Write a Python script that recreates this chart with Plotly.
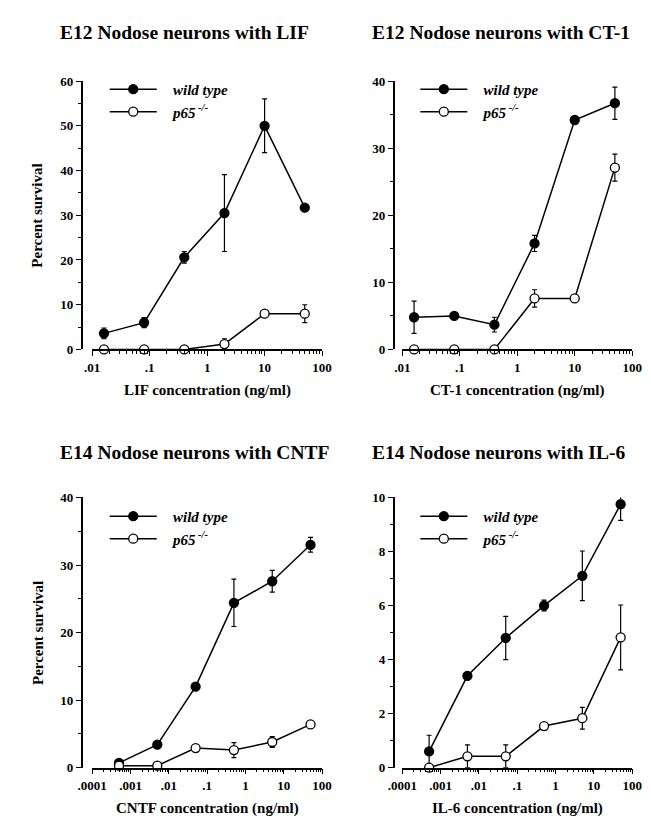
import numpy as np
import plotly.graph_objects as go

# ---------------- data ----------------
conc_e12 = [0.016, 0.08, 0.4, 2, 10, 50]
conc_e14 = [0.0005, 0.005, 0.05, 0.5, 5, 50]

lif_wt = [3.6, 6.0, 20.6, 30.5, 50.0, 31.7]
lif_wt_err = [1.2, 1.1, 1.3, 8.6, 6.0, None]
lif_ko = [0.0, 0.0, 0.0, 1.2, 8.0, 8.0]
lif_ko_err = [None, None, None, 1.2, None, 2.0]

ct1_wt = [4.8, 5.0, 3.7, 15.8, 34.2, 36.7]
ct1_wt_err = [2.4, None, 1.1, 1.2, None, 2.4]
ct1_ko = [0.0, 0.0, 0.0, 7.6, 7.6, 27.1]
ct1_ko_err = [None, None, None, 1.3, None, 2.0]

cntf_wt = [0.7, 3.4, 12.0, 24.4, 27.6, 33.0]
cntf_wt_err = [None, None, 0.4, 3.5, 1.6, 1.1]
cntf_ko = [0.3, 0.3, 2.9, 2.6, 3.8, 6.4]
cntf_ko_err = [None, None, None, 1.1, 0.8, None]

il6_wt = [0.6, 3.4, 4.8, 6.0, 7.1, 9.75]
il6_wt_err = [0.6, None, 0.8, 0.2, 0.92, 0.6]
il6_ko = [0.0, 0.42, 0.42, 1.54, 1.83, 4.82]
il6_ko_err = [None, 0.42, 0.42, None, 0.4, 1.2]

titles = ["E12 Nodose neurons with LIF", "E12 Nodose neurons with CT-1",
          "E14 Nodose neurons with CNTF", "E14 Nodose neurons with IL-6"]
xtitles = ["LIF concentration (ng/ml)", "CT-1 concentration (ng/ml)",
           "CNTF concentration (ng/ml)", "IL-6 concentration (ng/ml)"]
ytitle = "Percent survival"
series_names = ["&nbsp;&nbsp;&nbsp;wild type", "&nbsp;&nbsp;&nbsp;p65<sup> -/-</sup>"]

xt_e12_vals = [0.01, 0.1, 1, 10, 100]
xt_e12_text = [".01", ".1", "1", "10", "100"]
xt_e14_vals = [0.0001, 0.001, 0.01, 0.1, 1, 10, 100]
xt_e14_text = [".0001", ".001", ".01", ".1", "1", "10", "100"]

# ---------------- layout geometry (pixels) ----------------
W, H = 651, 819
def px(x):
    return x / W
def py(y):
    return 1 - y / H

SERIF = "Liberation Serif, Times New Roman, serif"
panels = [
    dict(conc=conc_e12, wt=lif_wt, wte=lif_wt_err, ko=lif_ko, koe=lif_ko_err,
         xd=(72, 311), yd=(67.3, 340.7), yax=61, yr=[0, 60], ydt=10, ymn=5,
         xr=[-2, 2], xtv=xt_e12_vals, xtt=xt_e12_text, ytitle=True,
         leg=(85, 59)),
    dict(conc=conc_e12, wt=ct1_wt, wte=ct1_wt_err, ko=ct1_ko, koe=ct1_ko_err,
         xd=(394.5, 633.5), yd=(67.3, 340.7), yax=385.5, yr=[0, 40], ydt=10, ymn=5,
         xr=[-2, 2], xtv=xt_e12_vals, xtt=xt_e12_text, ytitle=False,
         leg=(408, 59)),
    dict(conc=conc_e14, wt=cntf_wt, wte=cntf_wt_err, ko=cntf_ko, koe=cntf_ko_err,
         xd=(72, 311), yd=(491.5, 766.7), yax=61, yr=[0, 40], ydt=10, ymn=5,
         xr=[-4, 2], xtv=xt_e14_vals, xtt=xt_e14_text, ytitle=True,
         leg=(85, 494)),
    dict(conc=conc_e14, wt=il6_wt, wte=il6_wt_err, ko=il6_ko, koe=il6_ko_err,
         xd=(394.5, 633.5), yd=(491.5, 766.7), yax=385.5, yr=[0, 10], ydt=2, ymn=1,
         xr=[-4, 2], xtv=xt_e14_vals, xtt=xt_e14_text, ytitle=False,
         leg=(408, 494)),
]
title_pos = [(36, 18), (361, 18), (36, 446), (361, 446)]

fig = go.Figure()
layout = dict(width=W, height=H, margin=dict(l=0, r=0, t=0, b=0),
              paper_bgcolor="white", plot_bgcolor="white", showlegend=True)
annotations = []

for i, p in enumerate(panels):
    n = i + 1
    xa = "x" if n == 1 else f"x{n}"
    ya = "y" if n == 1 else f"y{n}"
    lg = "legend" if n == 1 else f"legend{n}"
    for k, (yv, ev) in enumerate([(p["wt"], p["wte"]), (p["ko"], p["koe"])]):
        filled = (k == 0)
        fig.add_trace(go.Scatter(
            x=p["conc"], y=yv, xaxis=xa, yaxis=ya, legend=lg,
            name=series_names[k], mode="lines+markers", cliponaxis=False,
            line=dict(color="black", width=1.5),
            marker=dict(symbol="circle", size=9,
                        color="black" if filled else "white",
                        line=dict(color="black", width=1.3)),
            error_y=dict(type="data", array=ev, symmetric=True, visible=True,
                         color="black", thickness=1.2, width=2.5),
        ))
    minor_x = [m * 10 ** d for d in range(p["xr"][0], p["xr"][1]) for m in range(2, 10)]
    layout["xaxis" if n == 1 else f"xaxis{n}"] = dict(
        type="log", range=p["xr"], domain=[px(p["xd"][0]), px(p["xd"][1])],
        anchor=ya, showline=True, linecolor="black", linewidth=1.5,
        showgrid=False, zeroline=False, ticks="outside", ticklen=5,
        tickwidth=1.2, tickcolor="black", tickmode="array",
        tickvals=p["xtv"], ticktext=p["xtt"],
        tickfont=dict(family=SERIF, size=13, color="black", weight="bold"),
        minor=dict(tickmode="array", tickvals=minor_x, ticks="outside",
                   ticklen=3, tickwidth=1, tickcolor="black", showgrid=False),
    )
    layout["yaxis" if n == 1 else f"yaxis{n}"] = dict(
        range=p["yr"], domain=[py(p["yd"][1]), py(p["yd"][0])],
        anchor="free", position=px(p["yax"]), showline=True,
        linecolor="black", linewidth=1.5, showgrid=False, zeroline=False,
        ticks="outside", ticklen=5, tickwidth=1.2, tickcolor="black",
        dtick=p["ydt"], tick0=0,
        tickfont=dict(family=SERIF, size=13, color="black", weight="bold"),
        minor=dict(dtick=p["ymn"], ticks="outside", ticklen=3, tickwidth=1,
                   tickcolor="black", showgrid=False),
    )
    layout[lg] = dict(
        x=px(p["leg"][0]), y=py(p["leg"][1]), xanchor="left", yanchor="top",
        bgcolor="rgba(0,0,0,0)", borderwidth=0, itemwidth=47,
        font=dict(family=SERIF, size=15, color="black", weight="bold", style="italic"),
        tracegroupgap=0, itemclick=False,
    )
    # panel title
    annotations.append(dict(
        text=titles[i], xref="paper", yref="paper",
        x=px(title_pos[i][0]), y=py(title_pos[i][1]), xanchor="left", yanchor="middle",
        showarrow=False, font=dict(family=SERIF, size=19.5, color="black", weight="bold")))
    # x axis title
    annotations.append(dict(
        text=xtitles[i], xref="paper", yref="paper",
        x=px((p["xd"][0] + p["xd"][1]) / 2), y=py(p["yd"][1] + 42),
        xanchor="center", yanchor="middle", showarrow=False,
        font=dict(family=SERIF, size=15, color="black", weight="bold")))
    if p["ytitle"]:
        annotations.append(dict(
            text=ytitle, xref="paper", yref="paper", textangle=-90,
            x=px(15), y=py((p["yd"][0] + p["yd"][1]) / 2),
            xanchor="center", yanchor="middle", showarrow=False,
            font=dict(family=SERIF, size=15, color="black", weight="bold")))

layout["annotations"] = annotations
fig.update_layout(**layout)
fig.write_html("out.html")
